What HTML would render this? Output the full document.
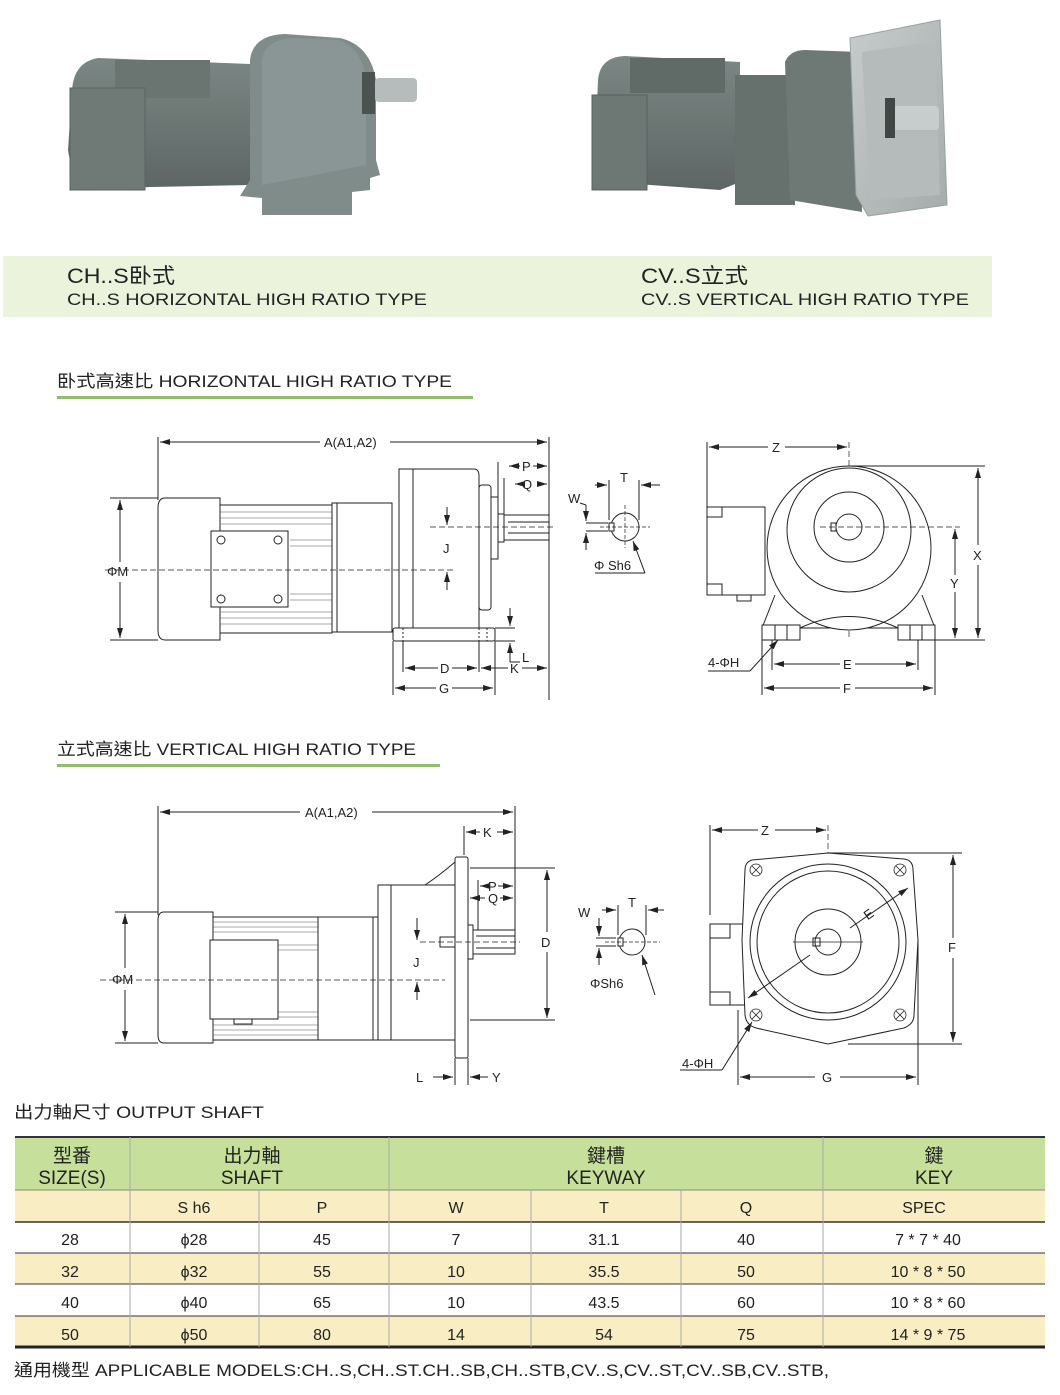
<!DOCTYPE html>
<html><head><meta charset="utf-8"><style>
html,body{margin:0;padding:0;background:#fff;}
svg{display:block;}
text{font-family:"Liberation Sans","Noto Sans CJK TC",sans-serif;fill:#222;}
</style></head><body>
<svg width="1060" height="1395" viewBox="0 0 1060 1395" xmlns="http://www.w3.org/2000/svg">
<defs>
<marker id="ar" markerWidth="10" markerHeight="6" refX="10" refY="3" orient="auto-start-reverse" markerUnits="userSpaceOnUse"><path d="M0,0 L10,3 L0,6 z" fill="#222"/></marker>
<linearGradient id="gm" x1="0" y1="0" x2="0" y2="1"><stop offset="0" stop-color="#7b8784"/><stop offset="1" stop-color="#5d6664"/></linearGradient>
<linearGradient id="gf" x1="0" y1="0" x2="1" y2="1"><stop offset="0" stop-color="#c6cccb"/><stop offset="1" stop-color="#a4acab"/></linearGradient>
</defs>

<!-- PHOTO 1 -->
<g>
<path d="M72,90 Q74,62 98,58 L250,64 L250,185 L100,188 Q72,182 68,150 Z" fill="url(#gm)"/>
<rect x="115" y="60" width="95" height="38" fill="#6a7572"/>
<rect x="70" y="88" width="75" height="102" fill="#6f7a77" stroke="#5a6361"/>
<path d="M250,60 Q253,35 285,34 L340,38 Q370,45 376,80 L376,160 L380,175 L370,178 L370,190 L352,192 L352,215 L262,215 L262,198 L240,196 L250,180 Z" fill="#808c8a"/>
<path d="M262,60 Q265,40 292,38 L338,40 Q362,47 366,80 L366,165 L262,185 Z" fill="#8a9695"/>
<rect x="375" y="78" width="42" height="24" rx="4" fill="#b5bcbb"/>
<rect x="362" y="72" width="13" height="42" fill="#4b5351"/>
</g>
<!-- PHOTO 2 -->
<g>
<path d="M598,80 Q600,57 625,56 L740,62 L740,182 L720,190 L610,182 Q595,175 595,150 Z" fill="url(#gm)"/>
<rect x="630" y="58" width="95" height="35" fill="#606b68"/>
<rect x="592" y="95" width="55" height="95" fill="#6d7875" stroke="#58615f"/>
<rect x="735" y="75" width="60" height="130" fill="#66716e"/>
<path d="M785,62 Q790,50 805,50 L860,52 L862,212 L790,200 Z" fill="#6e7976"/>
<path d="M850,38 L940,20 L947,205 L868,216 L856,195 Z" fill="url(#gf)" stroke="#9aa2a1"/>
<path d="M862,52 L935,42 L940,195 L870,200 Z" fill="#b4bbba"/>
<rect x="893" y="106" width="46" height="24" rx="4" fill="#c7cdcc"/>
<rect x="885" y="98" width="10" height="40" fill="#3f4745"/>
</g>

<!-- caption band -->
<rect x="3" y="256" width="989" height="61" fill="#ebf3dc"/>
<text x="67" y="283" font-size="21" textLength="108" lengthAdjust="spacingAndGlyphs">CH..S卧式</text>
<text x="67" y="305" font-size="17" textLength="360" lengthAdjust="spacingAndGlyphs">CH..S HORIZONTAL HIGH RATIO TYPE</text>
<text x="641" y="283" font-size="21" textLength="107" lengthAdjust="spacingAndGlyphs">CV..S立式</text>
<text x="641" y="305" font-size="17" textLength="328" lengthAdjust="spacingAndGlyphs">CV..S VERTICAL HIGH RATIO TYPE</text>

<!-- section titles -->
<text x="57" y="387" font-size="17" textLength="395" lengthAdjust="spacingAndGlyphs">卧式高速比 HORIZONTAL HIGH RATIO TYPE</text>
<rect x="57" y="396" width="416" height="3" fill="#8dc26a"/>
<text x="57" y="755" font-size="17" textLength="359" lengthAdjust="spacingAndGlyphs">立式高速比 VERTICAL HIGH RATIO TYPE</text>
<rect x="57" y="764" width="383" height="3" fill="#8dc26a"/>

<!-- ===== HORIZONTAL DRAWING ===== -->
<g fill="none" stroke="#222" stroke-width="1">
<line x1="158" y1="437" x2="158" y2="500"/>
<line x1="549" y1="437" x2="549" y2="700"/>
<line x1="160" y1="442" x2="320" y2="442" marker-start="url(#ar)"/>
<line x1="390" y1="442" x2="547" y2="442" marker-end="url(#ar)"/>
<path d="M165,498 L220,498 L220,640 L165,640 Q158,640 158,630 L158,508 Q158,498 165,498 Z" fill="#fff"/>
<rect x="220" y="505" width="112" height="128" fill="#fff"/>
<g stroke-width="0.6" stroke="#555">
<line x1="220" y1="512" x2="332" y2="512"/><line x1="220" y1="518" x2="332" y2="518"/><line x1="220" y1="524" x2="332" y2="524"/><line x1="220" y1="612" x2="332" y2="612"/><line x1="220" y1="618" x2="332" y2="618"/><line x1="220" y1="624" x2="332" y2="624"/>
<line x1="290" y1="540" x2="332" y2="540"/><line x1="290" y1="546" x2="332" y2="546"/><line x1="290" y1="594" x2="332" y2="594"/><line x1="290" y1="600" x2="332" y2="600"/>
</g>
<rect x="211" y="531" width="77" height="76" fill="#fff"/>
<circle cx="221" cy="540" r="4"/><circle cx="278" cy="540" r="4"/><circle cx="221" cy="599" r="4"/><circle cx="278" cy="599" r="4"/>
<rect x="332" y="503" width="60" height="129" fill="#fff"/>
<line x1="337" y1="503" x2="337" y2="632"/>
<path d="M399,469 L474,469 Q479,469 479,476 L479,628 L399,628 Z" fill="#fff"/>
<line x1="413" y1="469" x2="413" y2="628"/>
<rect x="479" y="485" width="12" height="125" rx="3" fill="#fff"/>
<rect x="491" y="497" width="7" height="62" fill="#fff"/>
<rect x="498" y="514" width="6" height="28" fill="#fff"/>
<rect x="504" y="515" width="45" height="25" fill="#fff"/>
<line x1="508" y1="522" x2="549" y2="522"/><line x1="508" y1="533" x2="549" y2="533"/>
<rect x="393" y="628" width="102" height="13" rx="2" fill="#fff"/>
<line x1="403" y1="628" x2="403" y2="641" stroke-dasharray="2,2"/><line x1="479" y1="628" x2="479" y2="641" stroke-dasharray="2,2"/><line x1="487" y1="628" x2="487" y2="641" stroke-dasharray="2,2"/>
<line x1="105" y1="570" x2="455" y2="570" stroke-dasharray="6,3" stroke-width="0.7"/>
<line x1="430" y1="527" x2="555" y2="527" stroke-dasharray="6,3" stroke-width="0.7"/>
<line x1="110" y1="498" x2="158" y2="498"/><line x1="110" y1="640" x2="158" y2="640"/>
<line x1="120" y1="500" x2="120" y2="562" marker-start="url(#ar)"/>
<line x1="120" y1="582" x2="120" y2="638" marker-end="url(#ar)"/>
<line x1="447" y1="507" x2="447" y2="525" marker-end="url(#ar)"/>
<line x1="447" y1="590" x2="447" y2="572" marker-end="url(#ar)"/>
<line x1="498" y1="462" x2="498" y2="514"/><line x1="504" y1="478" x2="504" y2="514"/>
<line x1="509" y1="466" x2="520" y2="466" marker-start="url(#ar)"/><line x1="533" y1="466" x2="547" y2="466" marker-end="url(#ar)"/>
<line x1="515" y1="484" x2="522" y2="484" marker-start="url(#ar)"/><line x1="537" y1="484" x2="547" y2="484" marker-end="url(#ar)"/>
<line x1="495" y1="628" x2="515" y2="628"/><line x1="495" y1="641" x2="515" y2="641"/>
<line x1="510" y1="608" x2="510" y2="626" marker-end="url(#ar)"/>
<line x1="510" y1="662" x2="510" y2="643" marker-end="url(#ar)"/>
<line x1="510" y1="662" x2="520" y2="662"/>
<line x1="393" y1="641" x2="393" y2="695"/><line x1="403" y1="641" x2="403" y2="672"/><line x1="479" y1="641" x2="479" y2="672"/><line x1="495" y1="641" x2="495" y2="695"/>
<line x1="405" y1="668" x2="438" y2="668" marker-start="url(#ar)"/><line x1="452" y1="668" x2="477" y2="668" marker-end="url(#ar)"/>
<line x1="481" y1="668" x2="508" y2="668" marker-start="url(#ar)"/><line x1="522" y1="668" x2="547" y2="668" marker-end="url(#ar)"/>
<line x1="395" y1="688" x2="436" y2="688" marker-start="url(#ar)"/><line x1="452" y1="688" x2="493" y2="688" marker-end="url(#ar)"/>
<circle cx="625" cy="527" r="14" fill="#fff"/>
<rect x="609" y="523" width="5" height="8" fill="#fff"/>
<line x1="600" y1="527" x2="650" y2="527" stroke-dasharray="4,2" stroke-width="0.7"/>
<line x1="625" y1="505" x2="625" y2="548" stroke-dasharray="4,2" stroke-width="0.7"/>
<line x1="609" y1="480" x2="609" y2="520"/><line x1="639" y1="480" x2="639" y2="520"/>
<line x1="595" y1="485" x2="607" y2="485" marker-end="url(#ar)"/><line x1="660" y1="485" x2="641" y2="485" marker-end="url(#ar)"/>
<line x1="586" y1="523" x2="608" y2="523"/><line x1="586" y1="531" x2="608" y2="531"/>
<line x1="586" y1="505" x2="586" y2="521" marker-end="url(#ar)"/><line x1="586" y1="550" x2="586" y2="533" marker-end="url(#ar)"/>
<line x1="580" y1="503" x2="586" y2="505"/>
<line x1="645" y1="573" x2="633" y2="541" marker-end="url(#ar)"/><line x1="595" y1="573" x2="645" y2="573"/>
<line x1="707" y1="442" x2="707" y2="510"/><line x1="849" y1="442" x2="849" y2="640" stroke-dasharray="6,3" stroke-width="0.7"/>
<line x1="709" y1="447" x2="768" y2="447" marker-start="url(#ar)"/><line x1="785" y1="447" x2="847" y2="447" marker-end="url(#ar)"/>
<path d="M775,595 L762,628 L935,628 L922,595" fill="#fff"/>
<circle cx="849" cy="548" r="82" fill="#fff"/>
<circle cx="849" cy="530" r="62"/>
<circle cx="849" cy="527" r="35"/>
<circle cx="849" cy="527" r="13"/>
<rect x="831" y="523" width="5" height="8" fill="#fff"/>
<path d="M800,628 Q849,605 898,628" />
<rect x="762" y="625" width="38" height="15" fill="#fff"/><line x1="775" y1="625" x2="775" y2="640"/><line x1="787" y1="625" x2="787" y2="640"/>
<rect x="898" y="625" width="37" height="15" fill="#fff"/><line x1="910" y1="625" x2="910" y2="640"/><line x1="922" y1="625" x2="922" y2="640"/>
<rect x="707" y="507" width="58" height="88" fill="#fff"/>
<rect x="707" y="507" width="15" height="10"/><rect x="707" y="584" width="15" height="11"/>
<rect x="737" y="595" width="14" height="6"/>
<line x1="820" y1="527" x2="960" y2="527" stroke-dasharray="6,3" stroke-width="0.7"/>
<line x1="849" y1="466" x2="985" y2="466"/><line x1="935" y1="640" x2="985" y2="640"/>
<line x1="978" y1="468" x2="978" y2="545" marker-start="url(#ar)"/><line x1="978" y1="565" x2="978" y2="638" marker-end="url(#ar)"/>
<line x1="955" y1="529" x2="955" y2="575" marker-start="url(#ar)"/><line x1="955" y1="592" x2="955" y2="638" marker-end="url(#ar)"/>
<line x1="762" y1="640" x2="762" y2="695"/><line x1="935" y1="640" x2="935" y2="695"/><line x1="772" y1="640" x2="772" y2="670"/><line x1="918" y1="640" x2="918" y2="670"/>
<line x1="774" y1="664" x2="840" y2="664" marker-start="url(#ar)"/><line x1="855" y1="664" x2="916" y2="664" marker-end="url(#ar)"/>
<line x1="764" y1="688" x2="840" y2="688" marker-start="url(#ar)"/><line x1="855" y1="688" x2="933" y2="688" marker-end="url(#ar)"/>
<line x1="708" y1="671" x2="750" y2="671"/><line x1="750" y1="671" x2="778" y2="640" marker-end="url(#ar)"/>
</g>
<g font-size="13">
<text x="324" y="447">A(A1,A2)</text>
<text x="107" y="576">ΦM</text>
<text x="443" y="553">J</text>
<text x="522" y="471">P</text>
<text x="522" y="489">Q</text>
<text x="522" y="662">L</text>
<text x="510" y="673">K</text>
<text x="440" y="673">D</text>
<text x="439" y="693">G</text>
<text x="620" y="482">T</text>
<text x="568" y="503">W</text>
<text x="594" y="570">Φ Sh6</text>
<text x="772" y="452">Z</text>
<text x="973" y="560">X</text>
<text x="950" y="588">Y</text>
<text x="843" y="669">E</text>
<text x="843" y="693">F</text>
<text x="708" y="667">4-ΦH</text>
</g>

<!-- ===== VERTICAL DRAWING ===== -->
<g fill="none" stroke="#222" stroke-width="1">
<line x1="158" y1="806" x2="158" y2="915"/><line x1="515" y1="806" x2="515" y2="930"/>
<line x1="160" y1="812" x2="300" y2="812" marker-start="url(#ar)"/><line x1="372" y1="812" x2="513" y2="812" marker-end="url(#ar)"/>
<line x1="464" y1="826" x2="464" y2="855"/>
<line x1="466" y1="832" x2="480" y2="832" marker-start="url(#ar)"/><line x1="497" y1="832" x2="513" y2="832" marker-end="url(#ar)"/>
<path d="M164,912 L213,912 L213,1043 L164,1043 Q158,1043 158,1035 L158,920 Q158,912 164,912 Z" fill="#fff"/>
<rect x="213" y="917" width="105" height="123" fill="#fff"/>
<g stroke-width="0.6" stroke="#555">
<line x1="213" y1="922" x2="318" y2="922"/><line x1="213" y1="927" x2="318" y2="927"/><line x1="213" y1="932" x2="318" y2="932"/><line x1="213" y1="1025" x2="318" y2="1025"/><line x1="213" y1="1030" x2="318" y2="1030"/><line x1="213" y1="1035" x2="318" y2="1035"/>
<line x1="278" y1="945" x2="318" y2="945"/><line x1="278" y1="950" x2="318" y2="950"/><line x1="278" y1="1012" x2="318" y2="1012"/><line x1="278" y1="1017" x2="318" y2="1017"/>
</g>
<rect x="210" y="940" width="68" height="79" fill="#fff"/>
<rect x="234" y="1019" width="18" height="5"/>
<rect x="318" y="917" width="60" height="123" fill="#fff"/>
<line x1="373" y1="917" x2="373" y2="1040"/>
<path d="M378,885 L455,885 L455,1040 L378,1040 Z" fill="#fff"/>
<line x1="391" y1="885" x2="391" y2="1040"/>
<path d="M425,885 Q440,875 455,862" />
<rect x="455" y="857" width="13" height="201" rx="2" fill="#fff"/>
<rect x="468" y="925" width="5" height="34" fill="#fff"/>
<rect x="473" y="930" width="42" height="24" fill="#fff"/>
<line x1="476" y1="936" x2="515" y2="936"/><line x1="476" y1="948" x2="515" y2="948"/>
<rect x="440" y="937" width="15" height="10" fill="#fff"/>
<line x1="420" y1="942" x2="520" y2="942" stroke-dasharray="6,3" stroke-width="0.7"/>
<line x1="100" y1="980" x2="445" y2="980" stroke-dasharray="6,3" stroke-width="0.7"/>
<line x1="115" y1="912" x2="158" y2="912"/><line x1="115" y1="1043" x2="158" y2="1043"/>
<line x1="125" y1="914" x2="125" y2="968" marker-start="url(#ar)"/><line x1="125" y1="990" x2="125" y2="1041" marker-end="url(#ar)"/>
<line x1="417" y1="918" x2="417" y2="940" marker-end="url(#ar)"/><line x1="417" y1="1000" x2="417" y2="982" marker-end="url(#ar)"/>
<line x1="478" y1="880" x2="478" y2="930"/>
<line x1="480" y1="886" x2="487" y2="886" marker-start="url(#ar)"/><line x1="498" y1="886" x2="513" y2="886" marker-end="url(#ar)"/>
<line x1="470" y1="898" x2="485" y2="898" marker-start="url(#ar)"/><line x1="500" y1="898" x2="513" y2="898" marker-end="url(#ar)"/>
<line x1="470" y1="868" x2="555" y2="868"/><line x1="470" y1="1020" x2="555" y2="1020"/>
<line x1="547" y1="870" x2="547" y2="932" marker-start="url(#ar)"/><line x1="547" y1="952" x2="547" y2="1018" marker-end="url(#ar)"/>
<line x1="455" y1="1058" x2="455" y2="1085"/><line x1="468" y1="1058" x2="468" y2="1085"/>
<line x1="433" y1="1077" x2="453" y2="1077" marker-end="url(#ar)"/><line x1="488" y1="1077" x2="470" y2="1077" marker-end="url(#ar)"/>
<circle cx="632" cy="942" r="13" fill="#fff"/>
<rect x="618" y="938" width="5" height="8" fill="#fff"/>
<line x1="605" y1="942" x2="660" y2="942" stroke-dasharray="4,2" stroke-width="0.7"/>
<line x1="618" y1="905" x2="618" y2="935"/><line x1="646" y1="905" x2="646" y2="935"/>
<line x1="602" y1="910" x2="616" y2="910" marker-end="url(#ar)"/><line x1="664" y1="910" x2="648" y2="910" marker-end="url(#ar)"/>
<line x1="596" y1="938" x2="616" y2="938"/><line x1="596" y1="946" x2="616" y2="946"/>
<line x1="599" y1="918" x2="599" y2="936" marker-end="url(#ar)"/><line x1="599" y1="965" x2="599" y2="948" marker-end="url(#ar)"/>
<line x1="655" y1="995" x2="642" y2="955" marker-end="url(#ar)"/>
<line x1="710" y1="825" x2="710" y2="915"/><line x1="828" y1="825" x2="828" y2="1000" stroke-dasharray="6,3" stroke-width="0.7"/>
<line x1="712" y1="830" x2="758" y2="830" marker-start="url(#ar)"/><line x1="775" y1="830" x2="826" y2="830" marker-end="url(#ar)"/>
<rect x="710" y="924" width="35" height="81" fill="#fff"/>
<rect x="710" y="924" width="20" height="14"/><rect x="710" y="992" width="20" height="13"/>
<path d="M752,860 Q745,862 745,870 L742,940 L745,1015 Q746,1025 756,1028 L828,1044 L904,1028 Q914,1024 914,1015 L918,940 L913,870 Q913,860 904,859 L828,853 Z" fill="#fff"/>
<circle cx="828" cy="942" r="78"/>
<circle cx="828" cy="942" r="71"/>
<circle cx="828" cy="942" r="33"/>
<circle cx="828" cy="942" r="13"/>
<rect x="813" y="938" width="7" height="8"/>
<line x1="793" y1="942" x2="863" y2="942" stroke-width="0.7"/>
<g stroke-width="0.8">
<circle cx="756" cy="870" r="6"/><circle cx="900" cy="870" r="6"/><circle cx="756" cy="1015" r="6"/><circle cx="900" cy="1015" r="6"/>
<path d="M752,866 l8,8 M760,866 l-8,8 M896,866 l8,8 M904,866 l-8,8 M752,1011 l8,8 M760,1011 l-8,8 M896,1011 l8,8 M904,1011 l-8,8"/>
</g>
<line x1="850" y1="928" x2="908" y2="888" marker-end="url(#ar)"/>
<line x1="810" y1="955" x2="748" y2="998" marker-end="url(#ar)"/>
<line x1="828" y1="853" x2="962" y2="853"/><line x1="848" y1="1044" x2="962" y2="1044"/>
<line x1="953" y1="855" x2="953" y2="938" marker-start="url(#ar)"/><line x1="953" y1="958" x2="953" y2="1042" marker-end="url(#ar)"/>
<line x1="738" y1="1010" x2="738" y2="1085"/><line x1="918" y1="940" x2="918" y2="1085"/>
<line x1="740" y1="1077" x2="815" y2="1077" marker-start="url(#ar)"/><line x1="840" y1="1077" x2="916" y2="1077" marker-end="url(#ar)"/>
<line x1="680" y1="1070" x2="722" y2="1070"/><line x1="722" y1="1070" x2="752" y2="1022" marker-end="url(#ar)"/>
</g>
<g font-size="13">
<text x="305" y="817">A(A1,A2)</text>
<text x="483" y="837">K</text>
<text x="112" y="984">ΦM</text>
<text x="413" y="967">J</text>
<text x="488" y="891">P</text>
<text x="488" y="903">Q</text>
<text x="541" y="947">D</text>
<text x="416" y="1082">L</text>
<text x="492" y="1082">Y</text>
<text x="628" y="907">T</text>
<text x="578" y="917">W</text>
<text x="590" y="988">ΦSh6</text>
<text x="761" y="835">Z</text>
<text x="865" y="918" transform="rotate(-35 870 915)">E</text>
<text x="948" y="952">F</text>
<text x="822" y="1082">G</text>
<text x="682" y="1068">4-ΦH</text>
</g>

<!-- ===== TABLE ===== -->
<text x="14" y="1118" font-size="17" textLength="250" lengthAdjust="spacingAndGlyphs">出力軸尺寸 OUTPUT SHAFT</text>
<rect x="15" y="1137" width="1030" height="53" fill="#c6e09b"/>
<rect x="15" y="1190" width="1030" height="32" fill="#f8edc3"/>
<rect x="15" y="1253" width="1030" height="31" fill="#f8edc3"/>
<rect x="15" y="1316" width="1030" height="31" fill="#f8edc3"/>
<g stroke="#555" stroke-width="1">
<line x1="15" y1="1137" x2="1045" y2="1137" stroke="#333" stroke-width="2"/>
<line x1="15" y1="1190" x2="1045" y2="1190" stroke="#888"/>
<line x1="15" y1="1222" x2="1045" y2="1222" stroke="#333" stroke-width="1.5"/>
<line x1="15" y1="1253" x2="1045" y2="1253" stroke="#333"/>
<line x1="15" y1="1284" x2="1045" y2="1284" stroke="#333"/>
<line x1="15" y1="1316" x2="1045" y2="1316" stroke="#333"/>
<line x1="15" y1="1347" x2="1045" y2="1347" stroke="#222" stroke-width="3"/>
<line x1="130" y1="1137" x2="130" y2="1347" stroke="#aaa"/>
<line x1="389" y1="1137" x2="389" y2="1347" stroke="#aaa"/>
<line x1="823" y1="1137" x2="823" y2="1347" stroke="#aaa"/>
<line x1="259" y1="1190" x2="259" y2="1347" stroke="#aaa"/>
<line x1="531" y1="1190" x2="531" y2="1347" stroke="#aaa"/>
<line x1="681" y1="1190" x2="681" y2="1347" stroke="#aaa"/>
</g>
<g font-size="19" text-anchor="middle">
<text x="72" y="1162">型番</text><text x="72" y="1184">SIZE(S)</text>
<text x="252" y="1162">出力軸</text><text x="252" y="1184">SHAFT</text>
<text x="606" y="1162">鍵槽</text><text x="606" y="1184">KEYWAY</text>
<text x="934" y="1162">鍵</text><text x="934" y="1184">KEY</text>
</g>
<g font-size="16" text-anchor="middle">
<text x="194" y="1213">S h6</text><text x="322" y="1213">P</text><text x="456" y="1213">W</text><text x="604" y="1213">T</text><text x="746" y="1213">Q</text><text x="924" y="1213">SPEC</text>
<text x="70" y="1245">28</text><text x="194" y="1245">ϕ28</text><text x="322" y="1245">45</text><text x="456" y="1245">7</text><text x="604" y="1245">31.1</text><text x="746" y="1245">40</text><text x="928" y="1245">7 * 7 * 40</text>
<text x="70" y="1277">32</text><text x="194" y="1277">ϕ32</text><text x="322" y="1277">55</text><text x="456" y="1277">10</text><text x="604" y="1277">35.5</text><text x="746" y="1277">50</text><text x="928" y="1277">10 * 8 * 50</text>
<text x="70" y="1308">40</text><text x="194" y="1308">ϕ40</text><text x="322" y="1308">65</text><text x="456" y="1308">10</text><text x="604" y="1308">43.5</text><text x="746" y="1308">60</text><text x="928" y="1308">10 * 8 * 60</text>
<text x="70" y="1340">50</text><text x="194" y="1340">ϕ50</text><text x="322" y="1340">80</text><text x="456" y="1340">14</text><text x="604" y="1340">54</text><text x="746" y="1340">75</text><text x="928" y="1340">14 * 9 * 75</text>
</g>
<text x="14" y="1376" font-size="17" textLength="815" lengthAdjust="spacingAndGlyphs">通用機型 APPLICABLE MODELS:CH..S,CH..ST.CH..SB,CH..STB,CV..S,CV..ST,CV..SB,CV..STB,</text>
</svg>
</body></html>
